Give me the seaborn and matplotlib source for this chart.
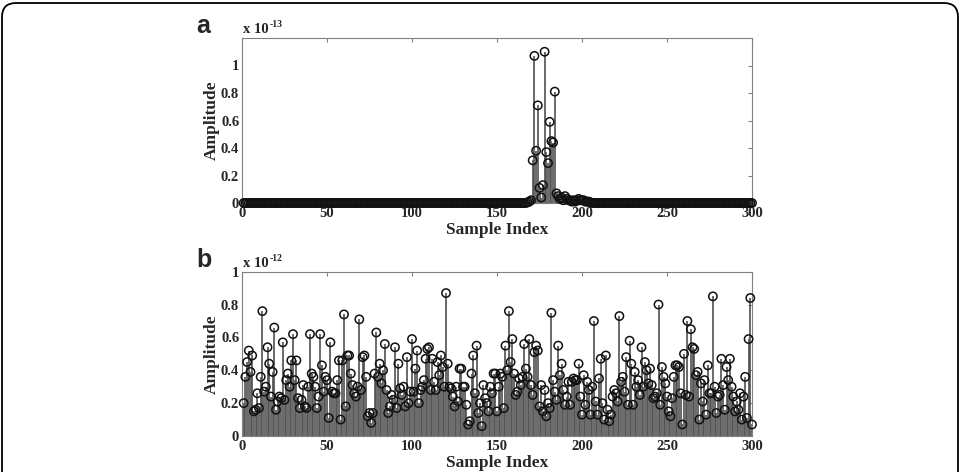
import numpy as np
import seaborn as sns
import matplotlib.pyplot as plt
from matplotlib.patches import FancyBboxPatch

# sample axis shared by both panels
n_samples = 300
sample_index = np.arange(1, n_samples + 1)

# panel a: amplitude in units of 1e-13, zero everywhere except the burst
burst_start = 168
burst_values = [0.005, 0.01, 0.02, 0.31, 1.07, 0.38, 0.71, 0.11, 0.04, 0.13,
                1.10, 0.37, 0.29, 0.59, 0.45, 0.44, 0.81, 0.07, 0.05, 0.03,
                0.04, 0.02, 0.05, 0.03, 0.02, 0.02, 0.01, 0.02, 0.01, 0.02,
                0.03, 0.02, 0.02, 0.02, 0.01, 0.01, 0.01, 0.005]

# panel b: amplitude in units of 1e-12
amp_b = [
    0.20, 0.36, 0.45, 0.52, 0.39, 0.49, 0.15, 0.16, 0.26, 0.17,
    0.36, 0.76, 0.27, 0.30, 0.54, 0.44, 0.24, 0.39, 0.66, 0.16,
    0.21, 0.24, 0.23, 0.57, 0.22, 0.34, 0.38, 0.30, 0.46, 0.62,
    0.34, 0.46, 0.23, 0.17, 0.22, 0.31, 0.18, 0.17, 0.30, 0.62,
    0.38, 0.36, 0.30, 0.17, 0.24, 0.62, 0.43, 0.27, 0.36, 0.34,
    0.11, 0.57, 0.27, 0.26, 0.26, 0.34, 0.46, 0.10, 0.46, 0.74,
    0.18, 0.49, 0.49, 0.38, 0.31, 0.26, 0.24, 0.30, 0.71, 0.28,
    0.48, 0.49, 0.36, 0.12, 0.14, 0.08, 0.14, 0.38, 0.63, 0.36,
    0.44, 0.32, 0.40, 0.56, 0.28, 0.14, 0.18, 0.25, 0.22, 0.54,
    0.17, 0.44, 0.29, 0.25, 0.30, 0.18, 0.48, 0.20, 0.27, 0.59,
    0.27, 0.41, 0.52, 0.20, 0.28, 0.30, 0.34, 0.47, 0.53, 0.54,
    0.28, 0.47, 0.33, 0.28, 0.45, 0.37, 0.49, 0.42, 0.30, 0.87,
    0.44, 0.30, 0.29, 0.24, 0.18, 0.30, 0.21, 0.41, 0.41, 0.30,
    0.30, 0.19, 0.07, 0.09, 0.38, 0.49, 0.26, 0.55, 0.14, 0.20,
    0.06, 0.31, 0.23, 0.20, 0.15, 0.30, 0.26, 0.38, 0.38, 0.15,
    0.30, 0.38, 0.36, 0.17, 0.55, 0.40, 0.76, 0.45, 0.59, 0.38,
    0.25, 0.27, 0.35, 0.31, 0.36, 0.56, 0.41, 0.36, 0.59, 0.31,
    0.25, 0.51, 0.55, 0.52, 0.18, 0.31, 0.15, 0.28, 0.12, 0.20,
    0.17, 0.75, 0.34, 0.27, 0.22, 0.55, 0.37, 0.44, 0.28, 0.19,
    0.24, 0.33, 0.19, 0.33, 0.35, 0.34, 0.34, 0.44, 0.24, 0.13,
    0.37, 0.19, 0.33, 0.28, 0.13, 0.30, 0.70, 0.21, 0.13, 0.35,
    0.47, 0.20, 0.10, 0.49, 0.16, 0.09, 0.13, 0.24, 0.28, 0.26,
    0.21, 0.73, 0.33, 0.36, 0.27, 0.48, 0.19, 0.58, 0.44, 0.19,
    0.39, 0.30, 0.34, 0.25, 0.54, 0.30, 0.45, 0.40, 0.32, 0.41,
    0.31, 0.23, 0.24, 0.26, 0.80, 0.19, 0.42, 0.36, 0.32, 0.24,
    0.15, 0.12, 0.23, 0.36, 0.43, 0.43, 0.42, 0.26, 0.07, 0.50,
    0.25, 0.70, 0.24, 0.65, 0.54, 0.53, 0.37, 0.39, 0.10, 0.32,
    0.21, 0.34, 0.13, 0.43, 0.26, 0.26, 0.85, 0.30, 0.14, 0.24,
    0.25, 0.47, 0.31, 0.16, 0.42, 0.34, 0.47, 0.30, 0.24, 0.15,
    0.21, 0.16, 0.26, 0.10, 0.24, 0.36, 0.11, 0.59, 0.84, 0.07,
]

x_ticks = [0, 50, 100, 150, 200, 250, 300]
y_ticks = [0, 0.2, 0.4, 0.6, 0.8, 1]
y_tick_labels = ['0', '0.2', '0.4', '0.6', '0.8', '1']

amp_a = np.zeros(n_samples)
amp_a[burst_start - 1:burst_start - 1 + len(burst_values)] = burst_values
amp_b = np.array(amp_b)

sns.set_style("white")
plt.rcParams['font.family'] = ['Liberation Serif', 'DejaVu Serif']

W, H = 961, 472
fig = plt.figure(figsize=(W / 100, H / 100), dpi=100)

def px(x, y):
    return x / W, 1 - y / H

def stem_panel(ax, values, ymax, exponent, letter, top_px):
    ax.vlines(sample_index, 0, values, color='#505050', lw=1.2, zorder=2)
    sns.scatterplot(x=sample_index, y=values, ax=ax, marker='o', s=36,
                    facecolor='none', edgecolor='#111111', linewidth=1.1,
                    zorder=3, clip_on=False)
    ax.set_xlim(0, 300)
    ax.set_ylim(0, ymax)
    ax.set_xticks(x_ticks)
    ax.set_xticklabels([str(t) for t in x_ticks])
    ax.set_yticks(y_ticks)
    ax.set_yticklabels(y_tick_labels)
    for lab in ax.get_xticklabels() + ax.get_yticklabels():
        lab.set_fontweight('bold')
    ax.tick_params(direction='in', top=True, right=True, length=3,
                   width=0.8, color='#808080', labelsize=10.5, pad=3)
    ax.tick_params(axis='y', pad=2)
    for sp in ax.spines.values():
        sp.set_color('#808080')
        sp.set_linewidth(0.8)
    ax.set_xlabel('Sample Index', fontsize=12.5, fontweight='bold', labelpad=1)
    ax.set_ylabel('Amplitude', fontsize=12.5, fontweight='bold', labelpad=1)
    # panel letter and exponent label above the axes
    fig.text(*px(196, top_px - 5), letter, fontsize=18, fontweight='bold',
             family='Liberation Sans', va='baseline')
    fig.text(*px(243, top_px - 5), 'x 10', fontsize=10.5, fontweight='bold',
             va='baseline')
    fig.text(*px(270, top_px - 11), exponent, fontsize=7, fontweight='bold',
             va='baseline')

ax_a = fig.add_axes([242 / W, 1 - 203 / H, 510 / W, 165 / H])
stem_panel(ax_a, amp_a, 1.2, '-13', 'a', 38)

ax_b = fig.add_axes([242 / W, 1 - 436 / H, 510 / W, 164.3 / H])
stem_panel(ax_b, amp_b, 1.0, '-12', 'b', 272)

# rounded frame around the figure (bottom edge falls outside the image)
frame = FancyBboxPatch((0.02, -0.5), 9.56, 5.19,
                       boxstyle='round,pad=0,rounding_size=0.14',
                       transform=fig.dpi_scale_trans, fill=False,
                       edgecolor='black', linewidth=1.3)
fig.patches.append(frame)

fig.savefig('out.png', dpi=100)
